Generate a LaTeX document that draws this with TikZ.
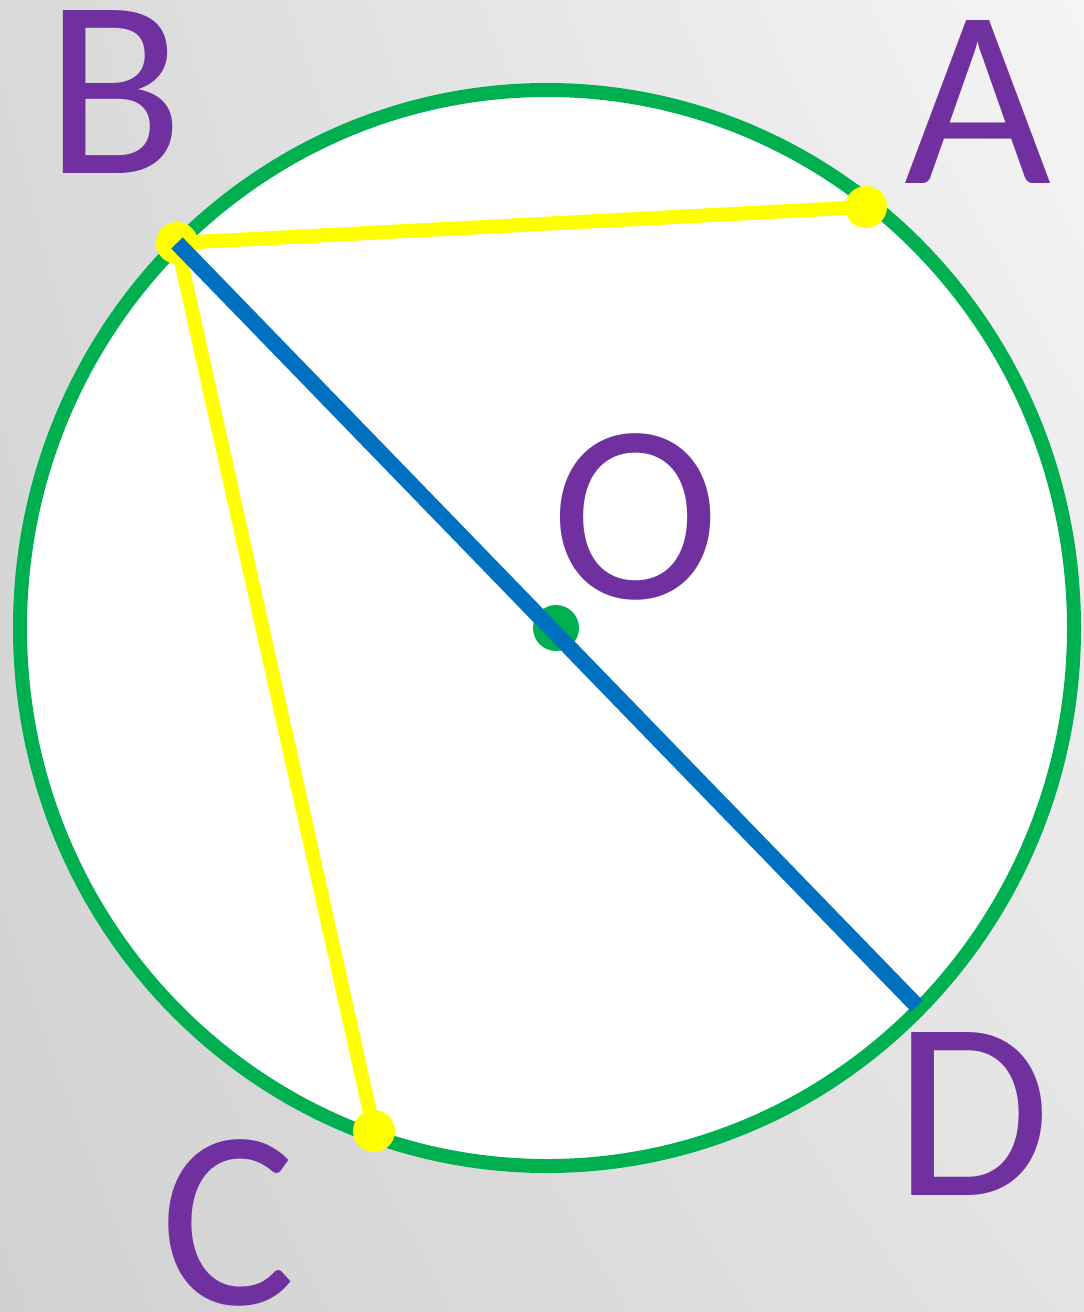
\documentclass[tikz,border=0pt]{standalone}
\usepackage{fontspec}
\setmainfont{Carlito}
\usepackage{xcolor}
\usetikzlibrary{shadings}
\definecolor{RimGreen}{RGB}{0,176,80}
\definecolor{ChordYellow}{RGB}{255,255,0}
\definecolor{DiamBlue}{RGB}{0,112,192}
\definecolor{LabelPurple}{RGB}{112,48,160}
\definecolor{BackUL}{RGB}{217,217,217}
\definecolor{BackUR}{RGB}{245,245,245}
\definecolor{BackLL}{RGB}{209,209,209}
\definecolor{BackLR}{RGB}{227,227,227}

\begin{document}
\begin{tikzpicture}[x=1pt,y=-1pt,every node/.style={font=\fontsize{254}{254}\selectfont,text=LabelPurple,inner sep=0pt}]
\tikzset{rim/.style={draw=RimGreen,line width=14pt,fill=white},chord/.style={draw=ChordYellow,line width=14pt},diam/.style={draw=DiamBlue,line width=16pt},pt/.style={circle,fill=ChordYellow,minimum size=42pt},ctr/.style={circle,fill=RimGreen,minimum size=46pt}}
\useasboundingbox (0,0) rectangle (1084,1312);
\shade[upper left=BackUL,upper right=BackUR,lower left=BackLL,lower right=BackLR] (0,0) rectangle (1084,1312);
\draw[rim] (547,628) ellipse [x radius=527,y radius=538];
\node[ctr] (O) at (556,628) {};
\coordinate (pA) at (866,207);
\coordinate (pB) at (177,243);
\coordinate (pC) at (374,1131);
\coordinate (D) at (917,1006);
\draw[chord] (pB) -- (pA);
\draw[chord] (pB) -- (pC);
\node[pt] (A) at (pA) {};
\node[pt] (B) at (pB) {};
\node[pt] (C) at (pC) {};
\draw[diam] (B.center) -- (D);
\node[anchor=base] (labB) at (115,173) {B};
\node[anchor=base] (labA) at (978,183) {A};
\node[anchor=base] (labO) at (636,598) {O};
\node[anchor=base] (labD) at (973,1195) {D};
\node[anchor=base] (labC) at (228,1304) {C};
\end{tikzpicture}
\end{document}
